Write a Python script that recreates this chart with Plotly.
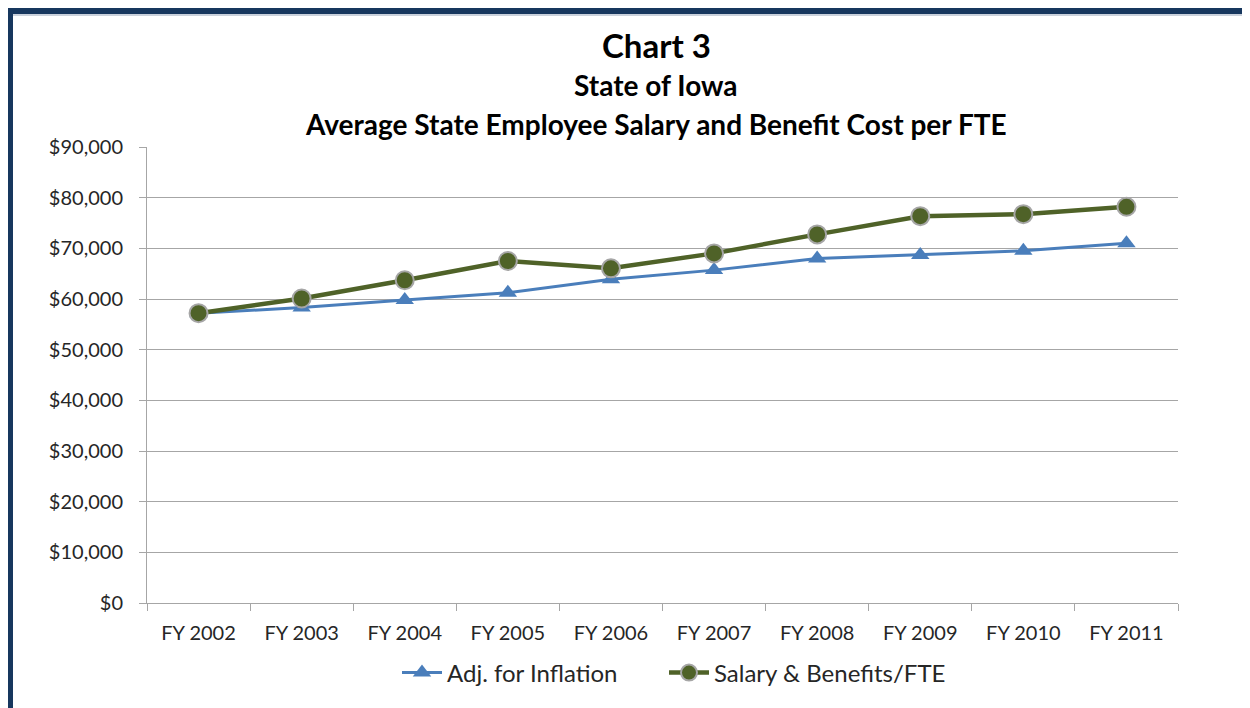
import plotly.graph_objects as go

years = ["FY 2002", "FY 2003", "FY 2004", "FY 2005", "FY 2006",
         "FY 2007", "FY 2008", "FY 2009", "FY 2010", "FY 2011"]
adj_inflation = [57200, 58300, 59800, 61250, 63900, 65700, 68000, 68700, 69500, 71000]
salary_benefits = [57200, 60100, 63700, 67500, 66050, 69000, 72750, 76350, 76750, 78200]
y_ticks = [0, 10000, 20000, 30000, 40000, 50000, 60000, 70000, 80000, 90000]
y_tick_labels = ["$0", "$10,000", "$20,000", "$30,000", "$40,000", "$50,000",
                 "$60,000", "$70,000", "$80,000", "$90,000"]

OFF = 8  # page body margin
W, H = 1250 - OFF, 708 - OFF
L, R, T, B = 147 - OFF, 72, 147 - OFF, 105
pw, ph = W - L - R, H - T - B

def px_x(px):
    return (px - OFF - L) / pw

def px_y(py):
    return (H - B - (py - OFF)) / ph

FONT = "Lato"
fig = go.Figure()
fig.add_trace(go.Scatter(
    x=years, y=adj_inflation, name="Adj. for Inflation", mode="lines+markers",
    line=dict(color="#4A7EBB", width=3),
    marker=dict(symbol="triangle-up", size=16, color="#4A7EBB"),
    legend="legend",
))
fig.add_trace(go.Scatter(
    x=years, y=salary_benefits, name="Salary & Benefits/FTE", mode="lines+markers",
    line=dict(color="#4F6228", width=4.5),
    marker=dict(symbol="circle", size=18, color="#4F6228",
                line=dict(color="#A6A6A6", width=2)),
    legend="legend2",
))

leg_common = dict(orientation="h", yanchor="middle", itemwidth=40,
                  font=dict(family=FONT, size=24, color="#262626"),
                  bgcolor="rgba(0,0,0,0)", borderwidth=0)

fig.update_layout(
    width=W, height=H,
    margin=dict(l=L, r=R, t=T, b=B, autoexpand=False),
    paper_bgcolor="white", plot_bgcolor="white",
    font=dict(family=FONT, size=20, color="#262626"),
    showlegend=True,
    legend=dict(x=px_x(397), xanchor="left", y=px_y(673), **leg_common),
    legend2=dict(x=px_x(664), xanchor="left", y=px_y(673), **leg_common),
    xaxis=dict(type="category", range=[-0.5, 9.5], tickson="boundaries",
               ticks="outside", ticklen=7, tickcolor="#A6A6A6",
               showline=True, linecolor="#A6A6A6", linewidth=1,
               ticklabelstandoff=12,
               showgrid=False, tickfont=dict(family=FONT, size=20, color="#262626")),
    yaxis=dict(range=[0, 90000], tickvals=y_ticks, ticktext=y_tick_labels,
               ticks="outside", ticklen=7, tickcolor="#A6A6A6",
               showline=True, linecolor="#A6A6A6", linewidth=1,
               ticklabelstandoff=12,
               showgrid=True, gridcolor="#A6A6A6", gridwidth=1,
               zeroline=False, tickfont=dict(family=FONT, size=20, color="#262626")),
)

# titles
titles = [("Chart 3", 45, 33), ("State of Iowa", 85, 28),
          ("Average State Employee Salary and Benefit Cost per FTE", 124, 28)]
for text, py, size in titles:
    fig.add_annotation(text="<b>%s</b>" % text, xref="paper", yref="paper",
                       x=px_x(656), y=px_y(py), xanchor="center", yanchor="middle",
                       showarrow=False, font=dict(family=FONT, size=size, color="black"))

# frame border (left and top)
fig.add_shape(type="rect", xref="paper", yref="paper",
              x0=px_x(7), x1=px_x(13), y0=px_y(1250), y1=px_y(8),
              fillcolor="#17375E", line=dict(width=0), layer="above")
fig.add_shape(type="rect", xref="paper", yref="paper",
              x0=px_x(7), x1=px_x(1300), y0=px_y(14), y1=px_y(8),
              fillcolor="#17375E", line=dict(width=0), layer="above")
fig.add_shape(type="line", xref="paper", yref="paper",
              x0=px_x(13), x1=px_x(1300), y0=px_y(15), y1=px_y(15),
              line=dict(color="#95A3B8", width=1), layer="above")

fig.write_html("out.html")
